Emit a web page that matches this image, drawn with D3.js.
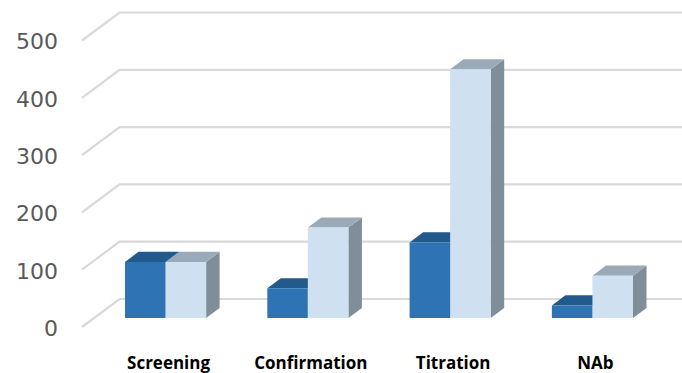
<!DOCTYPE html>
<html>
<head>
<meta charset="utf-8">
<script src="https://cdn.jsdelivr.net/npm/d3@7"></script>
<style>
  html, body { margin: 0; padding: 0; background: #fff; }
  svg { display: block; }
</style>
</head>
<body>
<svg id="chart" width="682" height="373"></svg>
<script>
// Assay counts per stage, two series
const categories = ["Screening", "Confirmation", "Titration", "NAb"];
const seriesDark = [98, 52, 132, 22];
const seriesLight = [98, 158, 434, 74];
const yTicks = [0, 100, 200, 300, 400, 500];

const W = 682, H = 373;
const svg = d3.select("#chart");

// 3D frame: front-left-bottom corner and the depth vector of the floor
const frontLeft = 82, frontRight = 652;
const DX = 37.5, DY = -28;
const dFront = 0.32, dBack = 0.68;   // bar depth within the floor

const y = d3.scaleLinear().domain([0, 500]).range([327, 40.5]);
const x = d3.scaleBand().domain(categories)
  .range([frontLeft, frontRight]).paddingInner(0.43).paddingOuter(0.218);
const xs = d3.scaleBand().domain(["a", "b"]).range([0, x.bandwidth()]);

const P = (px, v, d) => [px + d * DX, y(v) + d * DY];
const line = d3.line();

// Gridlines: left-wall diagonal plus back-wall horizontal
svg.append("g").selectAll("path").data(yTicks).join("path")
  .attr("d", v => line([P(frontLeft, v, 0), P(frontLeft, v, 1), P(frontRight + 60, v, 1)]))
  .attr("fill", "none").attr("stroke", "#d9d9d9").attr("stroke-width", 2.2);

// Value axis labels
svg.append("g").selectAll("text").data(yTicks).join("text")
  .attr("x", 58).attr("y", v => y(v) + 1)
  .attr("dy", "0.36em").attr("text-anchor", "end")
  .attr("font-family", "DejaVu Sans").attr("font-size", 22)
  .attr("fill", "#595959").text(d => d);

// Box drawing helper: front, top, side faces
function drawBar(g, x0, x1, v, c) {
  const fl = P(x0, 0, dFront), fr = P(x1, 0, dFront);
  const tl = P(x0, v, dFront), tr = P(x1, v, dFront);
  const btl = P(x0, v, dBack), btr = P(x1, v, dBack), bbr = P(x1, 0, dBack);
  g.append("path").attr("d", line([tr, btr, bbr, fr]) + "Z").attr("fill", c.side);
  g.append("path").attr("d", line([tl, btl, btr, tr]) + "Z").attr("fill", c.top);
  g.append("path").attr("d", line([fl, tl, tr, fr]) + "Z").attr("fill", c.front);
}

const darkC = { front: "#2e74b5", top: "#225a8c", side: "#1f4e79" };
const lightC = { front: "#cfe0f1", top: "#9aaab8", side: "#7f8e99" };

const bars = svg.append("g");
categories.forEach((cat, i) => {
  const g = bars.append("g");
  const x0 = x(cat);
  drawBar(g, x0 + xs("a"), x0 + xs("a") + xs.bandwidth(), seriesDark[i], darkC);
  drawBar(g, x0 + xs("b"), x0 + xs("b") + xs.bandwidth(), seriesLight[i], lightC);
});

// Category labels
svg.append("g").selectAll("text").data(categories).join("text")
  .attr("x", d => x(d) + x.bandwidth() / 2 + dFront * DX + 3)
  .attr("y", 368.5).attr("text-anchor", "middle")
  .attr("font-family", "Open Sans").attr("font-weight", "bold")
  .attr("font-size", 17).attr("fill", "#000").text(d => d);
</script>
</body>
</html>
